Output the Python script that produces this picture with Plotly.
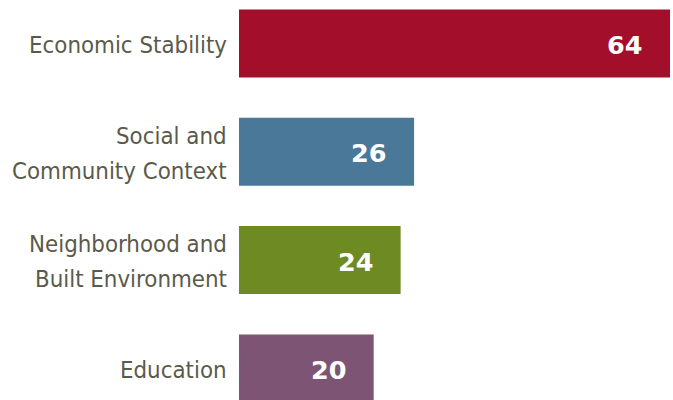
import plotly.graph_objects as go

categories = ["Economic Stability", "Social and Community Context",
              "Neighborhood and Built Environment", "Education"]
label_lines = [["Economic Stability"], ["Social and", "Community Context"],
               ["Neighborhood and", "Built Environment"], ["Education"]]
values = [64, 26, 24, 20]
colors = ["#A30E2B", "#497899", "#6E8A22", "#7E5474"]

fig = go.Figure(go.Bar(
    x=values, y=categories, orientation="h",
    marker=dict(color=colors, line=dict(width=0)),
    width=0.628, hoverinfo="skip",
))

label_font = dict(family="DejaVu Sans Condensed, Liberation Sans Narrow, Roboto",
                  size=23.8, color="#5A5A4B")
line_pitch = 35

for v, c, lines in zip(values, categories, label_lines):
    fig.add_annotation(
        x=v, y=c, text=str(v), showarrow=False, xanchor="right", yanchor="middle",
        xshift=-25, yshift=-1.5,
        font=dict(family="DejaVu Sans", size=25.5, color="white", weight="bold"),
    )
    n = len(lines)
    for i, line in enumerate(lines):
        offset = (i - (n - 1) / 2) * line_pitch
        fig.add_annotation(
            x=0, y=c, text=line, showarrow=False, xanchor="right", yanchor="middle",
            xshift=-10, yshift=-offset - 1.5, font=label_font,
        )

fig.update_layout(
    width=673, height=400,
    margin=dict(l=239, r=3, t=0, b=0),
    paper_bgcolor="white", plot_bgcolor="white",
    showlegend=False,
    xaxis=dict(range=[0, 64], visible=False, fixedrange=True),
    yaxis=dict(
        range=[3.2917, -0.4017], showgrid=False, zeroline=False, showline=False,
        showticklabels=False, ticks="", fixedrange=True,
    ),
)

fig.write_html("out.html")
